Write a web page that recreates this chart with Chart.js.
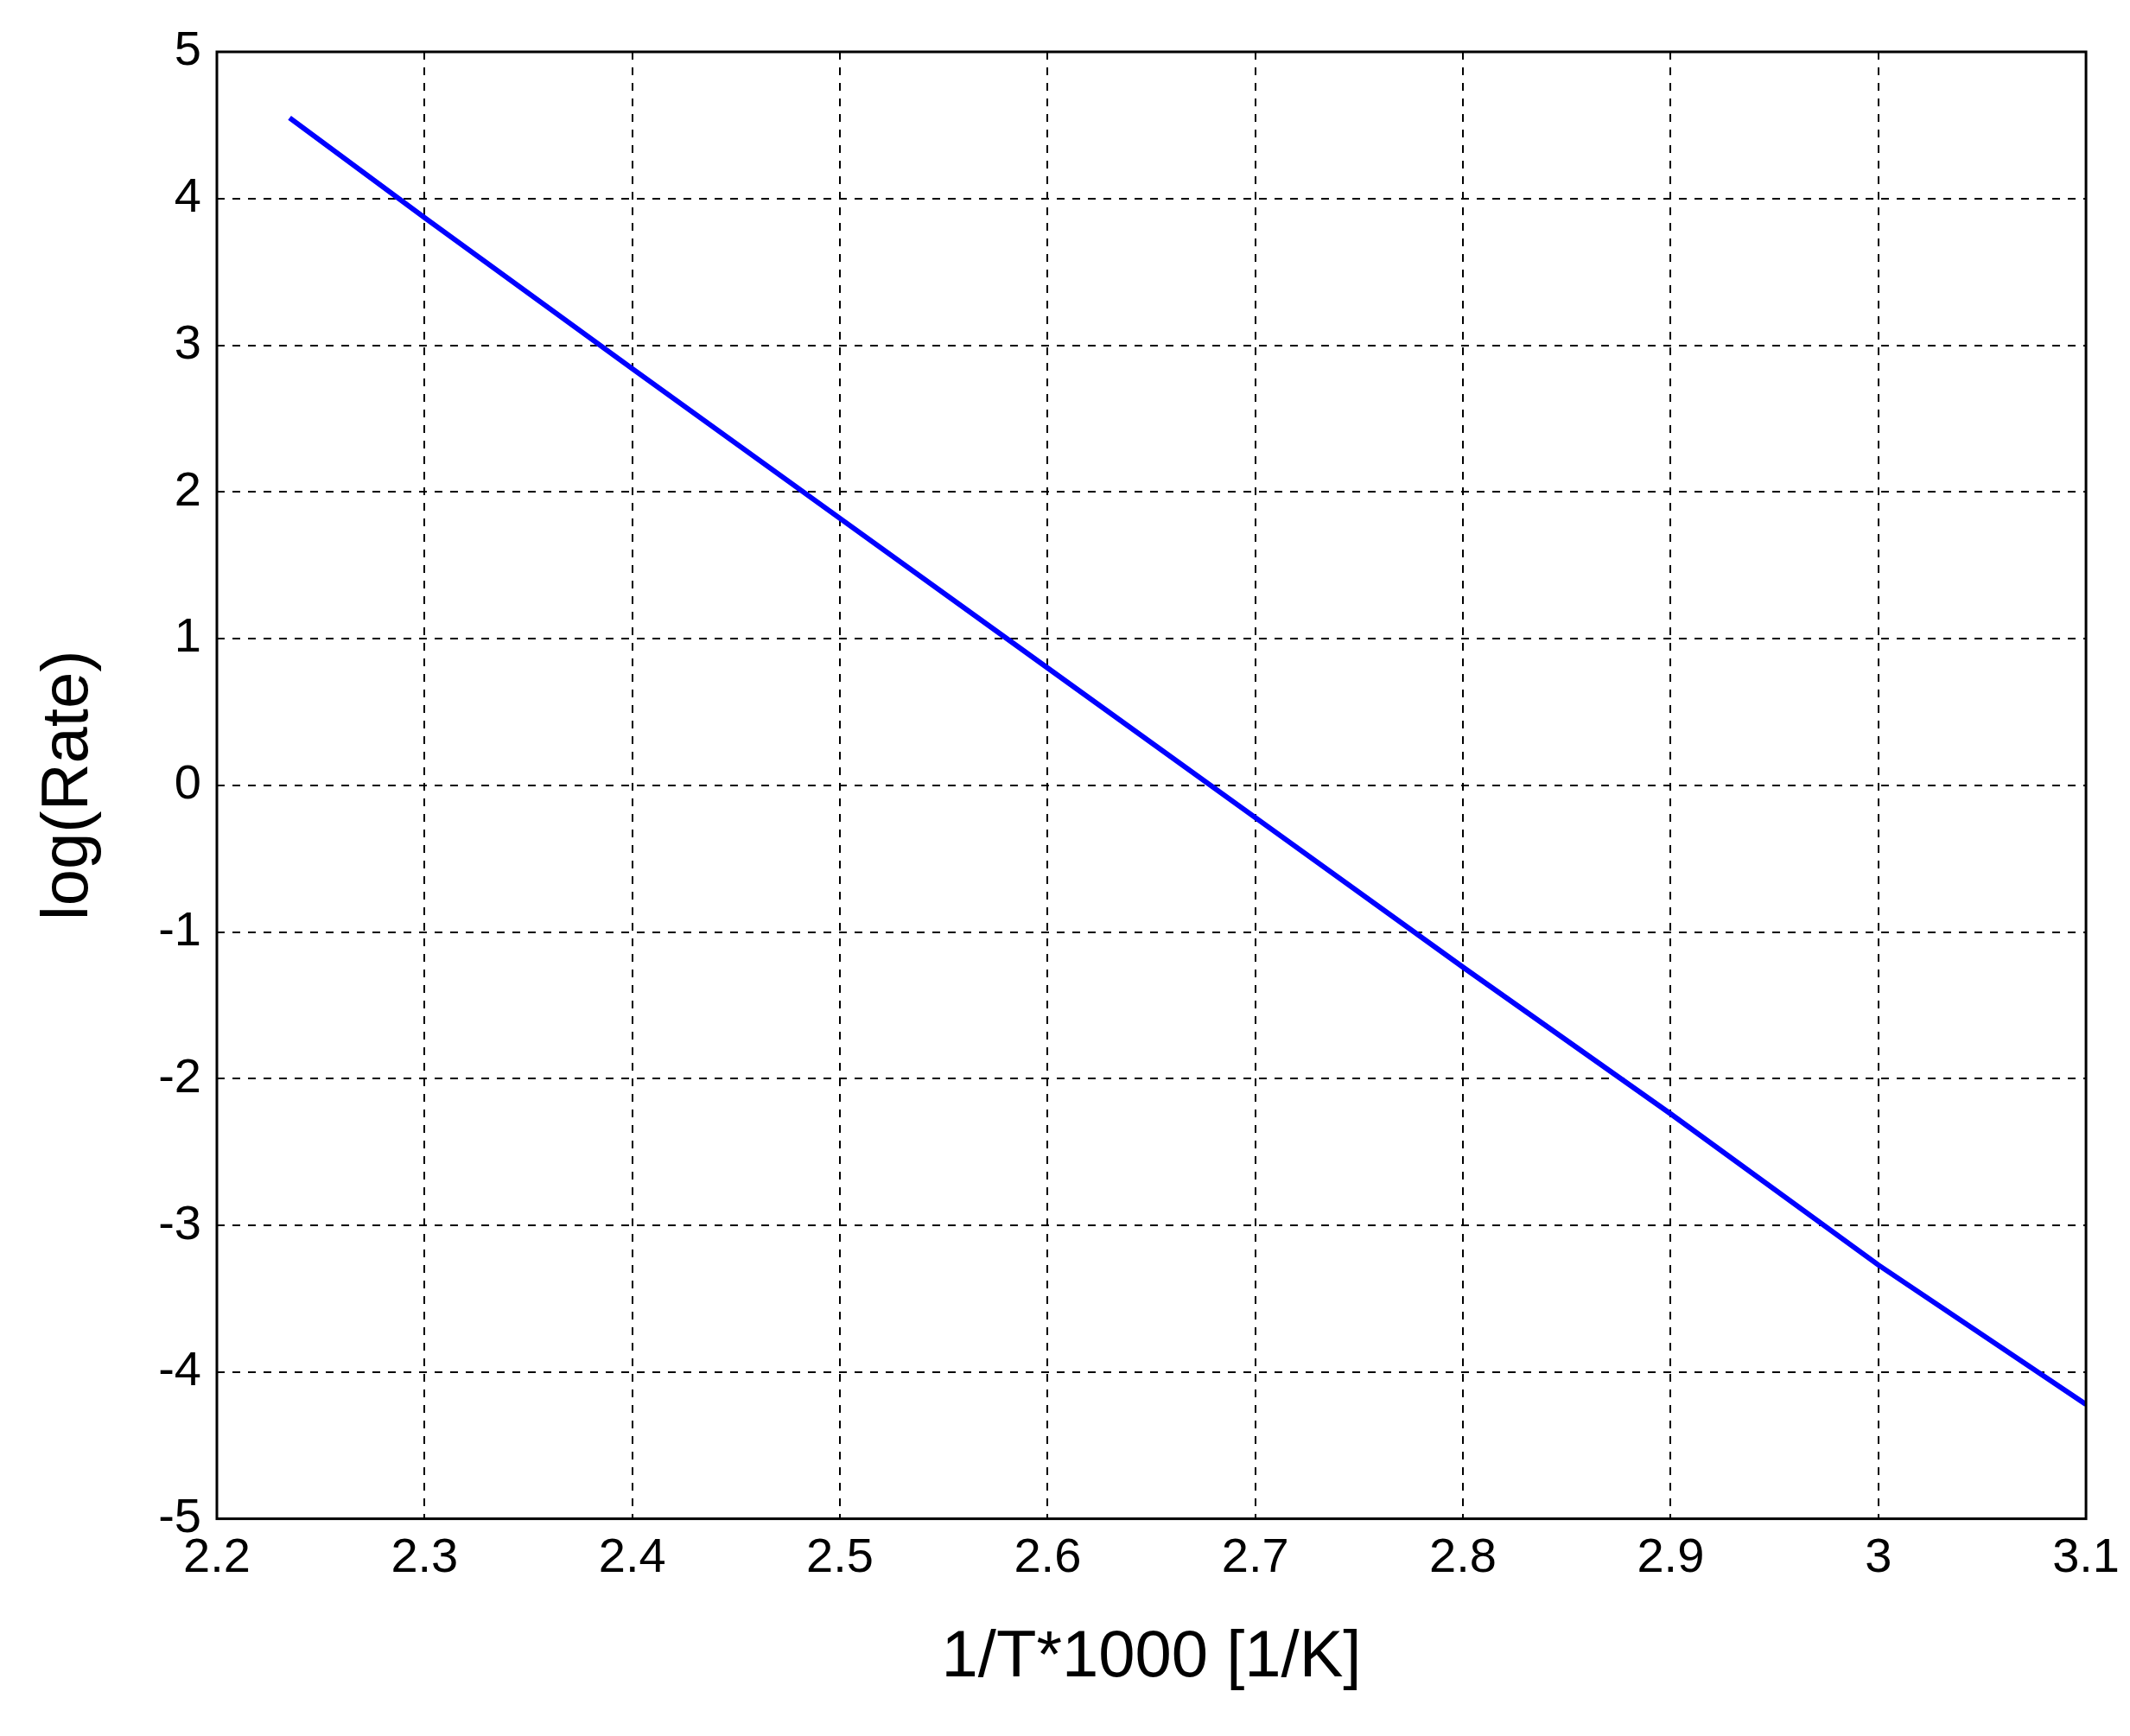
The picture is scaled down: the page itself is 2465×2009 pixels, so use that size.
<!DOCTYPE html>
<html>
<head>
<meta charset="utf-8">
<script src="https://cdn.jsdelivr.net/npm/chart.js@4"></script>
<style>body{margin:0;background:#fff}</style>
</head>
<body>
<canvas id="c" width="2465" height="2009"></canvas>
<script>
// values
const xValues = [2.235, 2.3, 2.4, 2.5, 2.6, 2.7, 2.8, 2.9, 3.0, 3.1];
const yValues = [4.55, 3.87, 2.84, 1.82, 0.80, -0.22, -1.24, -2.24, -3.27, -4.22];
const xTicks = [2.2, 2.3, 2.4, 2.5, 2.6, 2.7, 2.8, 2.9, 3, 3.1];
const yTicks = [-5, -4, -3, -2, -1, 0, 1, 2, 3, 4, 5];

const frame = {
  id: 'frame',
  afterDraw(chart) {
    const a = chart.chartArea, ctx = chart.ctx;
    ctx.save();
    ctx.strokeStyle = '#000';
    ctx.lineWidth = 3;
    ctx.strokeRect(a.left, a.top, a.right - a.left, a.bottom - a.top);
    ctx.restore();
  }
};

const font = { family: '"Liberation Sans", Arial, sans-serif', size: 56 };

new Chart(document.getElementById('c').getContext('2d'), {
  type: 'scatter',
  data: {
    datasets: [{
      data: xValues.map((x, i) => ({ x: x, y: yValues[i] })),
      showLine: true,
      borderColor: '#0000ff',
      borderWidth: 6,
      pointRadius: 0
    }]
  },
  options: {
    responsive: false,
    animation: false,
    devicePixelRatio: 1,
    layout: { padding: { top: 60, right: 50, left: 30, bottom: 40 } },
    plugins: { legend: { display: false }, tooltip: { enabled: false } },
    scales: {
      x: {
        type: 'linear', min: 2.2, max: 3.1,
        afterBuildTicks: s => { s.ticks = xTicks.map(v => ({ value: v })); },
        ticks: { color: '#000', font: font, padding: 12, callback: v => String(v) },
        grid: { color: '#000', lineWidth: 2, drawTicks: false },
        border: { display: false, dash: [9, 9] },
        title: { display: true, text: '1/T*1000 [1/K]', color: '#000',
                 font: { family: font.family, size: 76 }, padding: { top: 25 } }
      },
      y: {
        type: 'linear', min: -5, max: 5,
        afterBuildTicks: s => { s.ticks = yTicks.map(v => ({ value: v })); },
        ticks: { color: '#000', font: font, padding: 18, callback: v => String(v) },
        grid: { color: '#000', lineWidth: 2, drawTicks: false },
        border: { display: false, dash: [9, 9] },
        title: { display: true, text: 'log(Rate)', color: '#000',
                 font: { family: font.family, size: 76 }, padding: { bottom: 40 } }
      }
    }
  },
  plugins: [frame]
});
</script>
</body>
</html>
